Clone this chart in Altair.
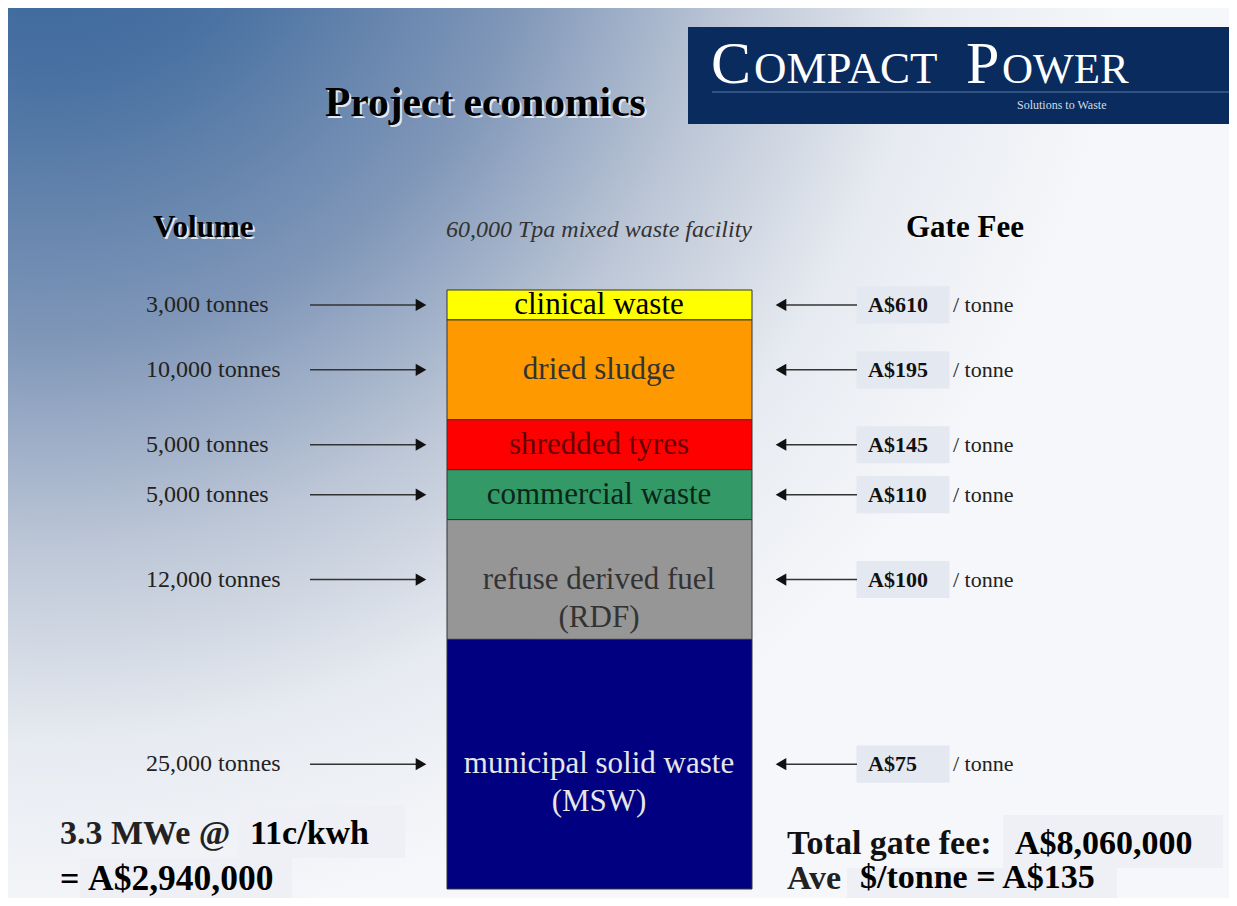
import altair as alt
import pandas as pd

# ---- data ----
categories = ["clinical waste", "dried sludge", "shredded tyres", "commercial waste",
              "refuse derived fuel\n(RDF)", "municipal solid waste\n(MSW)"]
volumes = [3000, 10000, 5000, 5000, 12000, 25000]          # tonnes per annum
gate_fees = [610, 195, 145, 110, 100, 75]                   # A$ per tonne
seg_colors = ["#ffff00", "#ff9900", "#ff0000", "#339966", "#969696", "#000080"]
label_colors = ["#000000", "#333333", "#660000", "#0b2618", "#333333", "#e6e6e6"]

W, H = 1221, 890

rows = []
acc = 0
for c, v, f, lc in zip(categories, volumes, gate_fees, label_colors):
    rows.append(dict(category=c, volume=v, fee=f, start=acc, end=acc + v, label_color=lc,
                     mid=acc + v / 2, vol_label=f"{v:,} tonnes", fee_label=f"A${f}"))
    acc += v
df = pd.DataFrame(rows)

base = alt.Chart(df)
one = alt.Data(values=[{}])
yscale = alt.Scale(domain=[-28247, 60902], reverse=True, nice=False, zero=False)
serif = "Liberation Serif"

# background gradient (slide)
bg = alt.Chart(one).mark_rect(
    fill=alt.Gradient(gradient="radial",
                      stops=[alt.GradientStop(color="#2c5f95", offset=0),
                             alt.GradientStop(color="#4a72a2", offset=0.22),
                             alt.GradientStop(color="#7f96b8", offset=0.45),
                             alt.GradientStop(color="#bcc6d6", offset=0.64),
                             alt.GradientStop(color="#e7ebf1", offset=0.82),
                             alt.GradientStop(color="#f6f7fa", offset=1)],
                      x1=0.03, y1=0.0, r1=0, x2=0.03, y2=0.0, r2=0.9)
).encode(x=alt.value(0), x2=alt.value(W), y=alt.value(0), y2=alt.value(H))


def txt(s, x, y, size, weight="normal", style="normal", color="#000000", align="left", font=serif):
    return alt.Chart(one).mark_text(text=s, fontSize=size, fontWeight=weight, fontStyle=style,
                                    color=color, align=align, baseline="alphabetic", font=font
                                    ).encode(x=alt.value(x), y=alt.value(y))


def box(x, y, w, h, color):
    return alt.Chart(one).mark_rect(color=color).encode(
        x=alt.value(x), x2=alt.value(x + w), y=alt.value(y), y2=alt.value(y + h))


# stacked column
bars = base.mark_rect(stroke="#333333", strokeWidth=1).encode(
    x=alt.value(439), x2=alt.value(744),
    y=alt.Y("start:Q", scale=yscale, axis=None), y2="end:Q",
    color=alt.Color("category:N", scale=alt.Scale(domain=categories, range=seg_colors), legend=None),
)
seg_text = base.mark_text(font=serif, fontSize=31, lineBreak="\n", baseline="middle", lineHeight=38).encode(
    x=alt.value(591), y=alt.Y("mid:Q", scale=yscale, axis=None), text="category:N",
    color=alt.Color("label_color:N", scale=None),
)

# left side: volumes with arrows
vol_text = base.mark_text(font=serif, fontSize=24, align="left", baseline="middle", color="#222222").encode(
    x=alt.value(138), y=alt.Y("mid:Q", scale=yscale, axis=None), text="vol_label:N")
left_rule = base.mark_rule(color="#333333", strokeWidth=1.5).encode(
    x=alt.value(302), x2=alt.value(410), y=alt.Y("mid:Q", scale=yscale, axis=None))
left_head = base.mark_point(shape="triangle-right", filled=True, size=150, color="#111111", opacity=1).encode(
    x=alt.value(413), y=alt.Y("mid:Q", scale=yscale, axis=None))

# right side: gate fees with arrows
right_rule = base.mark_rule(color="#333333", strokeWidth=1.5).encode(
    x=alt.value(774), x2=alt.value(849), y=alt.Y("mid:Q", scale=yscale, axis=None))
right_head = base.mark_point(shape="triangle-left", filled=True, size=150, color="#111111", opacity=1).encode(
    x=alt.value(773), y=alt.Y("mid:Q", scale=yscale, axis=None))
fee_box = base.mark_point(shape="M-1,-0.4L1,-0.4L1,0.4L-1,0.4Z", filled=True, size=93 * 93,
                          color="#e4e8f0", opacity=1, strokeWidth=0).encode(
    x=alt.value(895), y=alt.Y("mid:Q", scale=yscale, axis=None))
fee_text = base.mark_text(font=serif, fontSize=22, fontWeight="bold", align="left", baseline="middle",
                          color="#111111").encode(
    x=alt.value(860), y=alt.Y("mid:Q", scale=yscale, axis=None), text="fee_label:N")
tonne_text = base.mark_text(font=serif, fontSize=22, align="left", baseline="middle", color="#222222",
                            text="/ tonne").encode(
    x=alt.value(945), y=alt.Y("mid:Q", scale=yscale, axis=None))

# logo
logo = [
    box(680, 19, 541, 97, "#0a2b5e"),
    alt.Chart(one).mark_rule(color="#5b79a8", strokeWidth=1).encode(
        x=alt.value(704), x2=alt.value(W), y=alt.value(84)),
    txt("C", 703, 75, 60, color="#ffffff"),
    txt("OMPACT", 746, 75, 45, color="#ffffff"),
    txt("P", 958, 75, 60, color="#ffffff"),
    txt("OWER", 994, 75, 43, color="#ffffff"),
    txt("Solutions to Waste", 1009, 101, 12, color="#d3dbe8"),
]

# titles
titles = [
    txt("Project economics", 319, 110, 41.5, weight="bold", color="#e3e7ee"),
    txt("Project economics", 317, 108, 41.5, weight="bold"),
    txt("Volume", 147, 231, 31, weight="bold", color="#e3e7ee"),
    txt("Volume", 145, 229, 31, weight="bold"),
    txt("Gate Fee", 900, 231, 31, weight="bold", color="#f4f5f8"),
    txt("Gate Fee", 898, 229, 31, weight="bold"),
    txt("60,000 Tpa mixed waste facility", 591, 229, 24, style="italic", color="#333333", align="center"),
]

# bottom summaries
bottom = [
    box(230, 797, 167, 53, "#eef0f5"),
    box(72, 850, 212, 40, "#eef0f5"),
    box(995, 807, 220, 53, "#eef0f5"),
    box(839, 860, 270, 30, "#eef0f5"),
    txt("3.3 MWe @", 52, 836, 34, weight="bold", color="#222222"),
    txt("11c/kwh", 242, 836, 34, weight="bold"),
    txt("=", 52, 882, 34, weight="bold"),
    txt("A$2,940,000", 80, 882, 35.5, weight="bold"),
    txt("Total gate fee:", 779, 846, 34, weight="bold", color="#111111"),
    txt("A$8,060,000", 1007, 846, 34, weight="bold"),
    txt("Ave", 779, 881, 34, weight="bold", color="#222222"),
    txt("$/tonne = A$135", 852, 880, 34, weight="bold"),
]

chart = alt.layer(
    bg, *logo, *titles,
    bars, seg_text, vol_text, left_rule, left_head,
    fee_box, right_rule, right_head, fee_text, tonne_text,
    *bottom,
).properties(
    width=W, height=H, padding=0, autosize=alt.AutoSizeParams(type="none"), background="#ffffff"
).configure_view(stroke=None)

chart.save("out.html", embed_options={"renderer": "svg", "actions": False})
